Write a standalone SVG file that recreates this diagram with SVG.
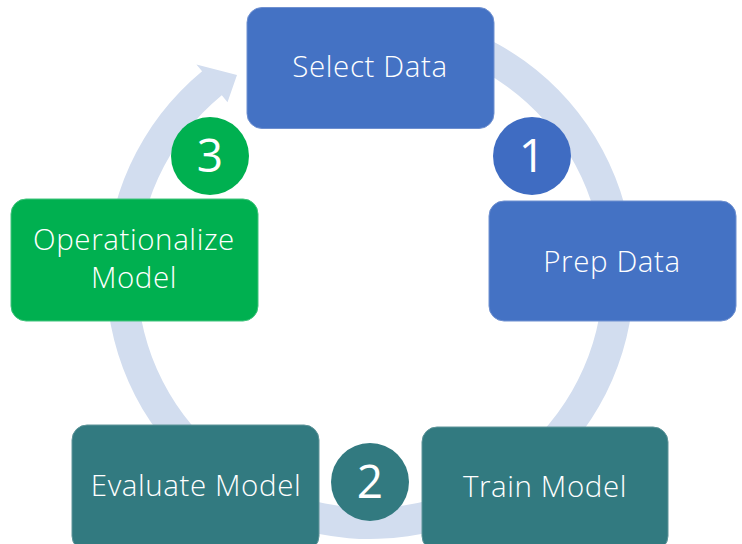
<svg xmlns="http://www.w3.org/2000/svg" width="742" height="544" viewBox="0 0 742 544">
<style>
.blue{fill:#4472C4;stroke:#6F90D0;stroke-width:1}
.teal{fill:#327A80;stroke:#5E9499;stroke-width:1}
.green{fill:#00B050;stroke:#40C47C;stroke-width:1}
.lbl{font-family:"Open Sans","Segoe UI","Noto Sans",sans-serif;font-weight:300;font-size:29.5px;letter-spacing:0.6px;fill:#FFFFFF;text-anchor:middle}
.num{font-family:"Open Sans","Segoe UI","Noto Sans",sans-serif;font-weight:400;font-size:46px;fill:#FFFFFF;text-anchor:middle}
.ring{fill:#D2DDEF}
</style>
<g id="connectors">
<path class="ring" d="M415.8,15 A264,264 0 1 1 202.1,71.3 L196.4,64.4 L237,75 L227.5,102.2 L221.8,95.2 A233,233 0 1 0 410.5,45.5 Z"/>
</g>
<g id="select-data">
<rect class="blue" x="247" y="7.5" width="247" height="121" rx="15"/>
<text class="lbl" x="370" y="77">Select Data</text>
</g>
<g id="prep-data">
<rect class="blue" x="489" y="201" width="247" height="120" rx="15"/>
<text class="lbl" x="612" y="272">Prep Data</text>
</g>
<g id="train-model">
<rect class="teal" x="422" y="427" width="246" height="124" rx="15"/>
<text class="lbl" x="545" y="497">Train Model</text>
</g>
<g id="evaluate-model">
<rect class="teal" x="72" y="425" width="247" height="126" rx="15"/>
<text class="lbl" x="196" y="496">Evaluate Model</text>
</g>
<g id="operationalize-model">
<rect class="green" x="11" y="199" width="247" height="122" rx="15"/>
<text class="lbl" x="134" y="250">Operationalize</text>
<text class="lbl" x="134" y="288">Model</text>
</g>
<g id="step-1">
<circle cx="532" cy="156" r="39" fill="#3F6CC2"/>
<text class="num" x="532" y="172">1</text>
</g>
<g id="step-2">
<circle cx="370" cy="482" r="39" fill="#327A80"/>
<text class="num" x="370" y="498">2</text>
</g>
<g id="step-3">
<circle cx="210" cy="156" r="39" fill="#00B050"/>
<text class="num" x="210" y="172">3</text>
</g>
</svg>
